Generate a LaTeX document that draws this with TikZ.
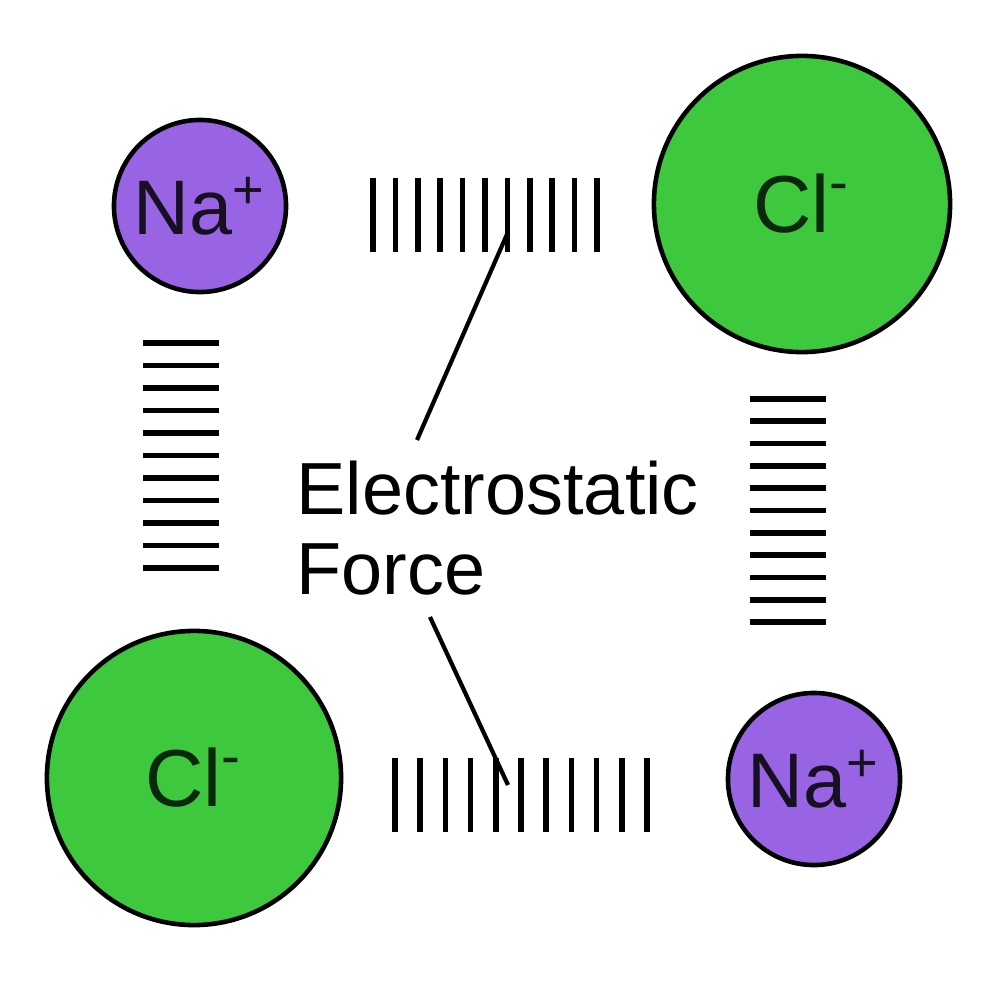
\documentclass[tikz,border=0pt]{standalone}
\usepackage{fontspec}
\setmainfont{Liberation Sans}
\usepackage{xcolor}
\usepackage{tikz}

\definecolor{sodium}{RGB}{152,100,228}
\definecolor{chlorine}{RGB}{62,200,62}

\begin{document}
\begin{tikzpicture}[x=0.01cm, y=-0.01cm,
    ion/.style={circle, draw=black, line width=1.3pt, inner sep=0pt},
    bond/.style={black, line width=1.6pt},
    pointer/.style={black, line width=1.2pt}]
\useasboundingbox (0,0) rectangle (1000,988);

% Ions at the four corners
\node[ion, fill=sodium, minimum size=1.72cm, text=black!85!sodium,
      font=\fontsize{22}{24}\selectfont]
    (naA) at (200,206) {Na\textsuperscript{+}};
\node[ion, fill=chlorine, minimum size=2.96cm, text=black!80!chlorine,
      font=\fontsize{23}{25}\selectfont]
    (clA) at (802,204) {Cl\textsuperscript{-}};
\node[ion, fill=chlorine, minimum size=2.94cm, text=black!80!chlorine,
      font=\fontsize{23}{25}\selectfont]
    (clB) at (194,778) {Cl\textsuperscript{-}};
\node[ion, fill=sodium, minimum size=1.72cm, text=black!85!sodium,
      font=\fontsize{22}{24}\selectfont]
    (naB) at (814,779) {Na\textsuperscript{+}};

% Hatched bonds between neighbouring ions
\foreach \i in {0,...,10} {
    \draw[bond] ({373+22.4*\i},178) -- ({373+22.4*\i},252);
    \draw[bond] ({395+25.2*\i},758) -- ({395+25.2*\i},832);
    \draw[bond] (143,{343+22.5*\i}) -- (219,{343+22.5*\i});
    \draw[bond] (750,{399+22.3*\i}) -- (826,{399+22.3*\i});
}

% Label and its two pointers
\node[anchor=north west, inner sep=0pt, align=left,
      font=\fontsize{21}{22.8}\selectfont]
    (force) at (296,460) {Electrostatic\\Force};

\coordinate (topfoot) at (417,440);
\coordinate (toptip) at (508,232);
\coordinate (lowfoot) at (430,617);
\coordinate (lowtip) at (508,785);

\draw[pointer] (topfoot) -- (toptip);
\draw[pointer] (lowfoot) -- (lowtip);
\end{tikzpicture}
\end{document}
